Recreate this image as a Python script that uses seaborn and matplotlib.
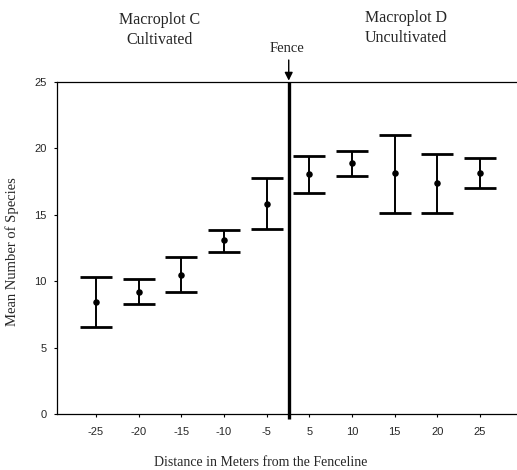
import matplotlib
matplotlib.use("Agg")
import matplotlib.pyplot as plt
import seaborn as sns
import numpy as np
import pandas as pd

distances = ["-25", "-20", "-15", "-10", "-5", "5", "10", "15", "20", "25"]
means = [8.45, 9.2, 10.45, 13.08, 15.83, 18.08, 18.88, 18.13, 17.38, 18.13]
upper = [10.35, 10.2, 11.83, 13.88, 17.75, 19.45, 19.78, 21.03, 19.58, 19.28]
lower = [6.55, 8.25, 9.18, 12.2, 13.93, 16.68, 17.93, 15.15, 15.15, 17.03]
yticks = [0, 5, 10, 15, 20, 25]

sns.set_style("ticks")
serif = ["Liberation Serif", "DejaVu Serif"]
sans = ["Liberation Sans", "DejaVu Sans"]

df = pd.DataFrame({"pos": np.arange(len(distances)), "mean": means})

fig = plt.figure(figsize=(5.17, 4.70), dpi=100)
ax = fig.add_axes([0.110, 0.119, 0.89, 0.7065])

m = np.array(means)
err = np.vstack([m - np.array(lower), np.array(upper) - m])
ax.errorbar(df["pos"], df["mean"], yerr=err, fmt="none", ecolor="black",
            elinewidth=1.4, capsize=11.5, capthick=2.0, zorder=2)
sns.scatterplot(data=df, x="pos", y="mean", color="black", s=22,
                edgecolor="black", linewidth=0, ax=ax, zorder=3, legend=False)

ax.plot([4.52, 4.52], [-0.4, 25], color="black", lw=2.4, zorder=4,
        clip_on=False, solid_capstyle="butt")

ax.set_xlim(-0.914, 9.87)
ax.set_ylim(0, 25)
ax.set_xticks(np.arange(len(distances)))
ax.set_xticklabels(distances, family=sans, fontsize=8)
ax.set_yticks(yticks)
ax.set_yticklabels([str(v) for v in yticks], family=sans, fontsize=8)
ax.tick_params(axis="x", length=2.5, width=0.8, color="black", pad=7)
ax.tick_params(axis="y", length=2.5, width=0.8, color="black", pad=5)

for s in ["left", "bottom", "top"]:
    ax.spines[s].set_visible(True)
    ax.spines[s].set_linewidth(0.9)
    ax.spines[s].set_color("black")
ax.spines["right"].set_visible(False)

ax.set_xlabel("")
ax.set_ylabel("")
fig.text(261 / 517, 1 - 462 / 470, "Distance in Meters from the Fenceline",
         family=serif, fontsize=10, ha="center", va="center")
fig.text(12 / 517, 1 - 252 / 470, "Mean Number of Species", family=serif,
         fontsize=10.5, ha="center", va="center", rotation=90)

fig.text(160 / 517, 1 - 20 / 470, "Macroplot C", family=serif, fontsize=11.5,
         ha="center", va="center")
fig.text(160 / 517, 1 - 40 / 470, "Cultivated", family=serif, fontsize=11.5,
         ha="center", va="center")
fig.text(406 / 517, 1 - 18 / 470, "Macroplot D", family=serif, fontsize=11.5,
         ha="center", va="center")
fig.text(406 / 517, 1 - 38 / 470, "Uncultivated", family=serif, fontsize=11.5,
         ha="center", va="center")
fig.text(287 / 517, 1 - 49 / 470, "Fence", family=serif, fontsize=10.5,
         ha="center", va="center")
ax.annotate("", xy=(4.52, 1.0), xycoords=("data", "axes fraction"),
            xytext=(4.52, 1 + 22 / 332), textcoords=("data", "axes fraction"),
            arrowprops=dict(arrowstyle="-|>", color="black", lw=1.0,
                            mutation_scale=12, shrinkA=0, shrinkB=1))

fig.savefig("out.png", dpi=100)
